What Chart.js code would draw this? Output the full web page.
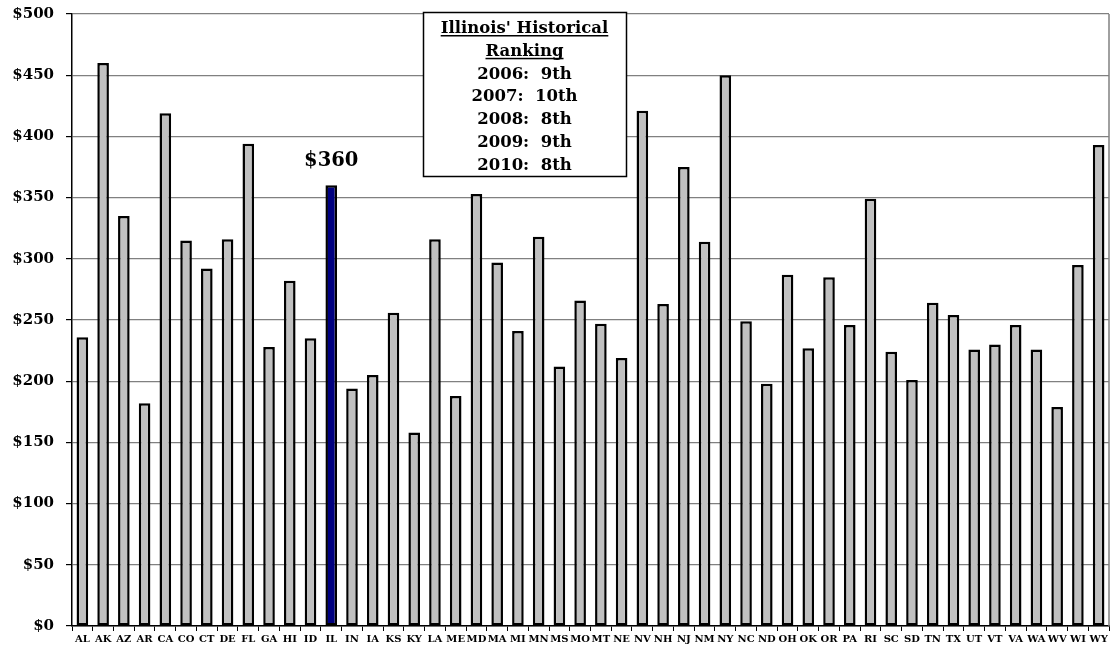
<!DOCTYPE html>
<html>
<head>
<meta charset="utf-8">
<script src="https://cdn.jsdelivr.net/npm/chart.js@4/dist/chart.umd.min.js"></script>
<style>
  html, body { margin: 0; padding: 0; background: #fff; }
  #wrap { width: 1112px; height: 648px; position: relative; }
</style>
</head>
<body>
<div id="wrap"><canvas id="bars"></canvas></div>
<script>
// states, alphabetical by name (as in the source chart)
const states = ['AL','AK','AZ','AR','CA','CO','CT','DE','FL','GA','HI','ID','IL','IN','IA','KS','KY','LA','ME','MD',
  'MA','MI','MN','MS','MO','MT','NE','NV','NH','NJ','NM','NY','NC','ND','OH','OK','OR','PA','RI','SC',
  'SD','TN','TX','UT','VT','VA','WA','WV','WI','WY'];
// dollars
const amounts = [236,460,335,182,419,315,292,316,394,228,282,235,360,194,205,256,158,316,188,353,
  297,241,318,212,266,247,219,421,263,375,314,450,249,198,287,227,285,246,349,224,
  201,264,254,226,230,246,226,179,295,393];
const yTicks = [0,50,100,150,200,250,300,350,400,450,500];
const highlight = 'IL';
const rankingLines = ["Illinois' Historical", 'Ranking', '2006:  9th', '2007:  10th', '2008:  8th', '2009:  9th', '2010:  8th'];

const serif = '"DejaVu Serif", "Liberation Serif", serif';

// label over the Illinois bar + ranking text box + right frame
const extras = {
  id: 'extras',
  afterDatasetsDraw(chart) {
    const ctx = chart.ctx;
    const ca = chart.chartArea;
    ctx.save();
    ctx.strokeStyle = '#808080';
    ctx.lineWidth = 1.5;
    ctx.beginPath();
    ctx.moveTo(ca.right, ca.top);
    ctx.lineTo(ca.right, ca.bottom);
    ctx.stroke();

    // value label
    const i = states.indexOf(highlight);
    const bar = chart.getDatasetMeta(0).data[i];
    ctx.fillStyle = '#000';
    ctx.font = 'bold 19.5px ' + serif;
    ctx.textAlign = 'center';
    ctx.textBaseline = 'bottom';
    ctx.fillText('$' + amounts[i], bar.x, bar.y - 15);

    // ranking box
    const bx = 423, by = 12, bw = 203, bh = 164;
    ctx.fillStyle = '#fff';
    ctx.fillRect(bx, by, bw, bh);
    ctx.strokeStyle = '#000';
    ctx.lineWidth = 1.5;
    ctx.strokeRect(bx + 0.5, by + 0.5, bw, bh);
    ctx.font = 'bold 16.5px ' + serif;
    ctx.fillStyle = '#000';
    ctx.textBaseline = 'alphabetic';
    rankingLines.forEach((t, k) => {
      const cx = bx + bw / 2;
      const yy = by + 21 + k * 22.8;
      ctx.fillText(t, cx, yy);
      if (k < 2) {
        const w = ctx.measureText(t).width;
        ctx.fillRect(cx - w / 2, yy + 2, w, 1.5);
      }
    });
    ctx.restore();
  }
};

new Chart(document.getElementById('bars'), {
  type: 'bar',
  data: {
    labels: states,
    datasets: [{
      data: amounts,
      backgroundColor: states.map(s => s === highlight ? '#000080' : '#c0c0c0'),
      borderColor: '#000',
      borderWidth: 2.5,
      borderSkipped: false,
      barPercentage: 0.56,
      categoryPercentage: 1.0
    }]
  },
  options: {
    responsive: true,
    maintainAspectRatio: false,
    animation: false,
    layout: { padding: { top: 14, right: 3, left: 0, bottom: 0 } },
    plugins: { legend: { display: false }, tooltip: { enabled: false } },
    scales: {
      x: {
        afterFit: s => { s.height = 22; },
        grid: { display: true, drawOnChartArea: false, offset: true, tickLength: 5, color: '#000' },
        border: { color: '#000', width: 1.5 },
        ticks: {
          autoSkip: false, maxRotation: 0, minRotation: 0, padding: 2,
          color: '#000', font: { family: serif, weight: 'bold', size: 10 }
        }
      },
      y: {
        min: 0, max: 500,
        afterFit: s => { s.width = 72; s.paddingTop = 0; s.paddingBottom = 0; },
        afterBuildTicks: s => { s.ticks = yTicks.map(v => ({ value: v })); },
        grid: { color: '#808080', lineWidth: 1.2, tickLength: 6, tickColor: '#000' },
        border: { color: '#000', width: 1.5 },
        ticks: {
          padding: 12, color: '#000',
          font: { family: serif, weight: 'bold', size: 15 },
          callback: v => '$' + v
        }
      }
    }
  },
  plugins: [extras]
});
</script>
</body>
</html>
